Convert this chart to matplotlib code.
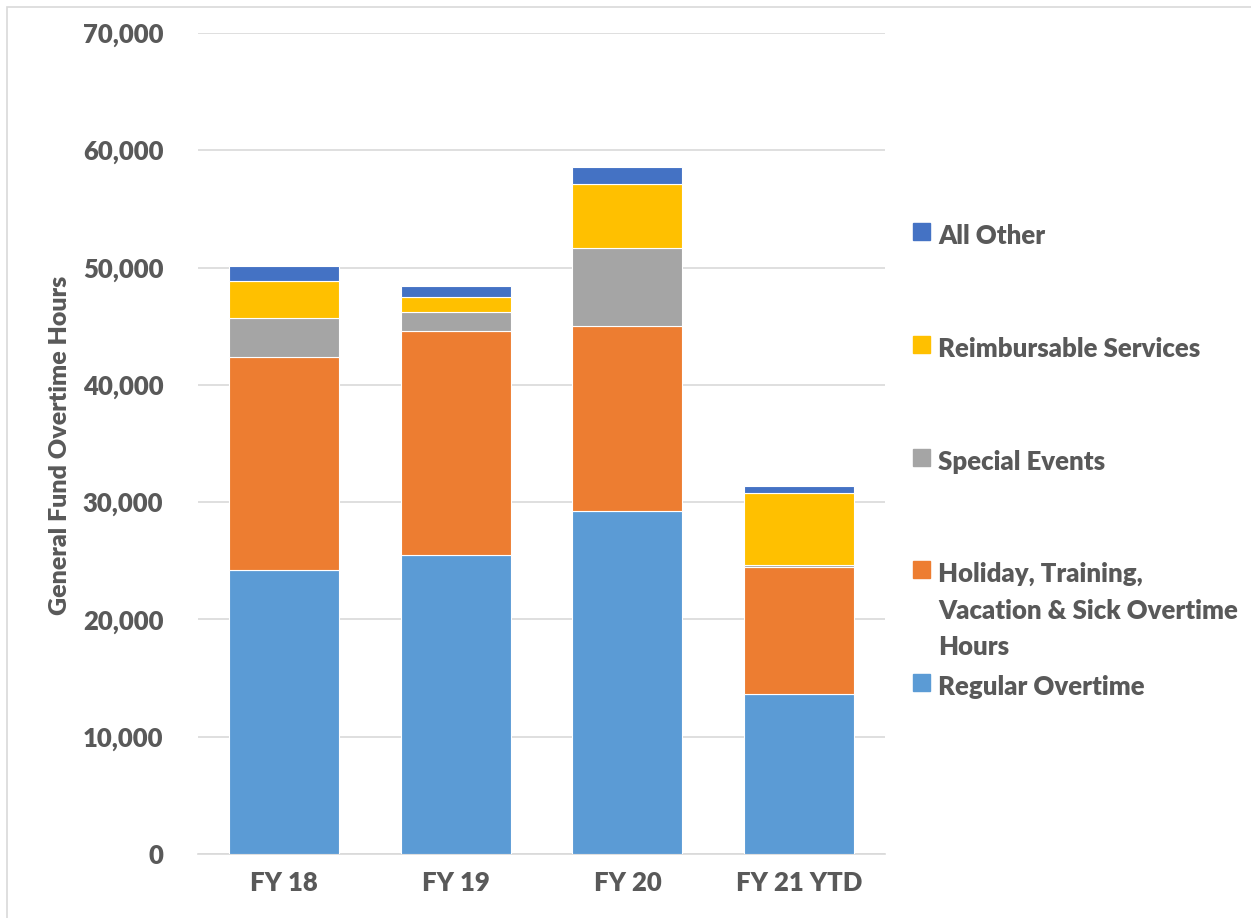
import matplotlib.pyplot as plt
import matplotlib.patches as mpatches
import numpy as np

plt.rcParams['font.family'] = ['Lato', 'DejaVu Sans']

# Data
categories = ['FY 18', 'FY 19', 'FY 20', 'FY 21 YTD']
regular = [24200, 25500, 29250, 13650]
holiday = [18150, 19100, 15750, 10850]
special = [3350, 1600, 6650, 150]
reimb = [3150, 1300, 5450, 6150]
other = [1300, 950, 1450, 600]

series = [
    ('Regular Overtime', regular, '#5B9BD5'),
    ('Holiday, Training,\nVacation & Sick Overtime\nHours', holiday, '#ED7D31'),
    ('Special Events', special, '#A5A5A5'),
    ('Reimbursable Services', reimb, '#FFC000'),
    ('All Other', other, '#4472C4'),
]

txt = '#595959'
wt = 'heavy'
fig = plt.figure(figsize=(12.51, 9.18), dpi=100)
ax = fig.add_axes([198 / 1251, 1 - 854 / 918, 687 / 1251, 821 / 918])

x = np.arange(len(categories))
bottom = np.zeros(len(categories))
for name, vals, col in series:
    ax.bar(x, vals, width=0.64, bottom=bottom, color=col, edgecolor='white', linewidth=0.8, zorder=3)
    bottom += np.array(vals)

ax.set_xlim(-0.5, 3.5)
ax.set_ylim(0, 70000)
ax.set_yticks(np.arange(0, 70001, 10000))
ax.yaxis.set_major_formatter(plt.FuncFormatter(lambda v, p: f'{int(v):,}'))
ax.set_xticks(x)
ax.set_xticklabels(categories)
ax.tick_params(length=0, labelsize=18.5, labelcolor=txt, pad=12)
ax.tick_params(axis='y', pad=25)
for lab in ax.get_xticklabels() + ax.get_yticklabels():
    lab.set_fontweight(wt)
ax.grid(axis='y', color='#d9d9d9', linewidth=1.2, zorder=0)
for s in ['top', 'right', 'left']:
    ax.spines[s].set_visible(False)
ax.spines['bottom'].set_color('#d9d9d9')
ax.spines['bottom'].set_linewidth(1.2)

fig.text(60 / 1251, 1 - 445 / 918, 'General Fund Overtime Hours', rotation=90,
         ha='center', va='center', fontsize=18, fontweight=wt, color=txt)

# legend, drawn manually to follow the reference spacing
leg_y = [683, 570, 458, 345, 232]
for (name, vals, col), yy in zip(series, leg_y):
    fig.add_artist(mpatches.Rectangle((913 / 1251, 1 - (yy + 8) / 918), 17 / 1251, 17 / 918,
                                      transform=fig.transFigure, color=col))
    fig.text(938 / 1251, 1 - (yy - 8) / 918, name, ha='left', va='top', fontsize=18.5,
             fontweight=wt, color=txt, linespacing=1.62)

# chart border
fig.add_artist(mpatches.Rectangle((7 / 1251, -0.1), 1.2, 1 - 7 / 918 + 0.1, transform=fig.transFigure,
                                  fill=False, edgecolor='#d9d9d9', linewidth=1.2))

fig.savefig('out.png', dpi=100)
